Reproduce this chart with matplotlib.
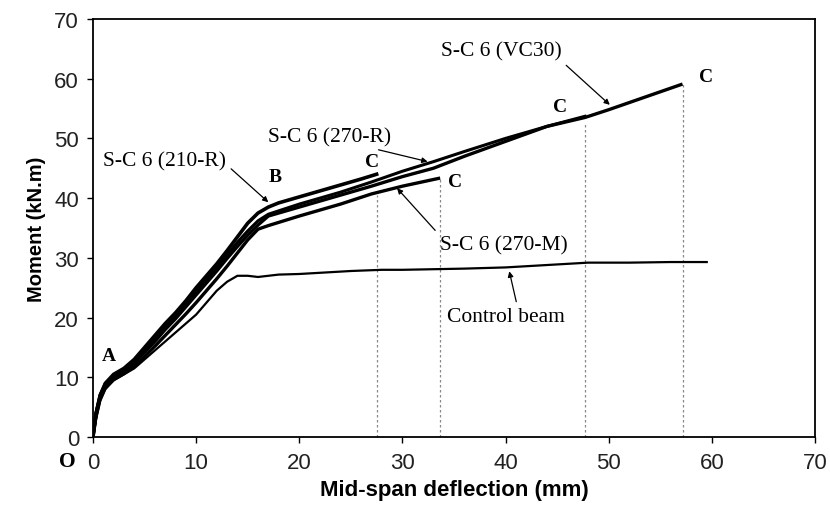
import matplotlib.pyplot as plt

plt.rcParams['font.family'] = ['Liberation Sans Narrow', 'Liberation Sans', 'DejaVu Sans']

# curves: mid-span deflection (mm), moment (kN.m)
ctrl_x = [0, 0.3, 0.7, 1.2, 2, 3, 4, 5, 6, 7, 8, 9, 10, 11, 12, 13, 14, 15, 16, 18, 20,
          22, 25, 28, 30, 33, 36, 40, 44, 48, 52, 56, 59.5]
ctrl_m = [0, 3, 6, 8, 9.5, 10.5, 11.5, 13, 14.5, 16, 17.5, 19, 20.5, 22.5, 24.5, 26, 27, 27, 26.8, 27.2, 27.3,
          27.5, 27.8, 28, 28, 28.1, 28.2, 28.4, 28.8, 29.2, 29.2, 29.3, 29.3]

r210_x = [0, 0.3, 0.7, 1.2, 2, 3, 4, 5, 6, 7, 8, 9, 10, 11, 12, 13, 14, 15, 16, 17, 18, 20, 22, 24, 26, 27.5]
r210_m = [0, 4, 7, 9, 10.5, 11.5, 13, 15, 17, 19, 20.8, 22.8, 25, 27, 29, 31.2, 33.5, 35.8, 37.5, 38.5, 39.2,
          40.2, 41.2, 42.2, 43.2, 44]

r270_x = [0, 0.3, 0.7, 1.2, 2, 3, 4, 5, 6, 7, 8, 9, 10, 11, 12, 13, 14, 15, 16, 17, 20, 24, 27, 30, 33,
          36, 40, 44, 47.7]
r270_m = [0, 4, 7, 9, 10.3, 11.3, 12.7, 14.6, 16.5, 18.5, 20.3, 22.3, 24.4, 26.4, 28.4, 30.5, 32.6, 34.5, 36.2,
          37.3, 39, 41, 42.7, 44.5, 46.1, 47.8, 50, 52, 53.7]

vc30_x = [0, 0.3, 0.7, 1.2, 2, 3, 4, 5, 6, 7, 8, 9, 10, 11, 12, 13, 14, 15, 16, 17, 20, 24, 27, 30, 33,
          36, 40, 44, 47.7, 50, 54, 57]
vc30_m = [0, 4, 7, 8.8, 10, 11, 12.4, 14.2, 16, 18, 19.8, 21.8, 23.8, 25.8, 27.8, 29.9, 31.9, 33.8, 35.5,
          37, 38.5, 40.5, 42, 43.6, 45, 47, 49.5, 52, 53.5, 54.8, 57.2, 59]

m270_x = [0, 0.3, 0.7, 1.2, 2, 3, 4, 5, 6, 7, 8, 9, 10, 11, 12, 13, 14, 15, 16, 17, 20, 24, 27, 30, 33.5]
m270_m = [0, 3.5, 6.5, 8.3, 9.6, 10.6, 11.8, 13.5, 15.2, 17, 18.8, 20.6, 22.5, 24.5, 26.5, 28.6, 30.8, 33, 34.8,
          35.4, 37, 39, 40.7, 42, 43.3]

# failure points C (deflection, moment at top of dashed line)
c_x = [27.5, 33.6, 47.7, 57.2]
c_m = [40.5, 43.3, 52.8, 59.3]

fig = plt.figure(figsize=(8.3, 5.1), dpi=100)
ax = fig.add_axes([0.112, 0.141, 0.870, 0.820])

for x, m in zip(c_x, c_m):
    ax.plot([x, x], [0, m], color='#888888', lw=0.9, ls=(0, (2, 2)))

ax.plot(ctrl_x, ctrl_m, color='black', lw=1.6)
ax.plot(m270_x, m270_m, color='black', lw=2.4)
ax.plot(vc30_x, vc30_m, color='black', lw=2.4)
ax.plot(r270_x, r270_m, color='black', lw=2.2)
ax.plot(r210_x, r210_m, color='black', lw=2.6)

ax.set_xlim(0, 70)
ax.set_ylim(0, 70)
ax.set_xticks(range(0, 71, 10))
ax.set_yticks(range(0, 71, 10))
ax.tick_params(direction='out', length=4, width=1, labelsize=16, pad=6, colors='black')
ax.tick_params(axis='x', pad=7)
for lab in ax.get_xticklabels() + ax.get_yticklabels():
    lab.set_color('#222222')
for s in ax.spines.values():
    s.set_linewidth(1.3)

ax.set_xlabel('Mid-span deflection (mm)', fontsize=16, fontweight='bold',
              family=['Liberation Sans', 'DejaVu Sans'], labelpad=4)
ax.set_ylabel('Moment (kN.m)', fontsize=14.5, fontweight='bold',
              family=['Liberation Sans', 'DejaVu Sans'], labelpad=6)

serif = ['Liberation Serif', 'DejaVu Serif']
arw = dict(arrowstyle='-|>', color='black', lw=0.9, mutation_scale=8)
ax.annotate('S-C 6 (210-R)', xy=(17.2, 39.0), xytext=(1.0, 45.5), fontsize=15.5, family=serif,
            arrowprops=dict(arw, relpos=(1, 0.3)))
ax.annotate('S-C 6 (270-R)', xy=(32.7, 46.0), xytext=(17.0, 49.5), fontsize=15.5, family=serif,
            arrowprops=dict(arw, relpos=(0.78, 0)))
ax.annotate('S-C 6 (VC30)', xy=(50.3, 55.3), xytext=(33.7, 63.8), fontsize=15.5, family=serif,
            arrowprops=dict(arw, relpos=(1, 0)))
ax.annotate('S-C 6 (270-M)', xy=(29.3, 42.0), xytext=(33.6, 31.4), fontsize=15.5, family=serif,
            arrowprops=dict(arw, relpos=(0, 1)))
ax.annotate('Control beam', xy=(40.3, 28.2), xytext=(34.3, 19.4), fontsize=15.5, family=serif,
            arrowprops=dict(arw, relpos=(0.6, 1)))

bold = dict(fontsize=14, family=serif, fontweight='bold', ha='center', va='center')
ax.text(1.5, 13.6, 'A', **bold)
ax.text(17.7, 43.7, 'B', **bold)
for x, y in [(27.1, 46.2), (35.1, 42.7), (45.3, 55.4), (59.4, 60.3)]:
    ax.text(x, y, 'C', **bold)
ax.text(-2.5, -4.0, 'O', fontsize=15.5, family=serif, fontweight='bold', ha='center', va='center',
        clip_on=False)

fig.savefig('out.png', dpi=100)
